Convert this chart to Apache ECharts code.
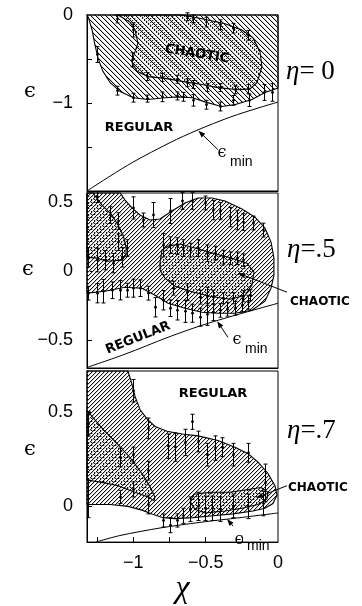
<!DOCTYPE html>
<html>
<head>
<meta charset="utf-8">
<script src="https://cdn.jsdelivr.net/npm/echarts@6/dist/echarts.min.js"></script>
<style>
  html, body { margin: 0; padding: 0; background: #fff; }
  #chart { width: 362px; height: 606px; }
</style>
</head>
<body>
<div id="chart"></div>
<script>
// axis ranges and tick values
const chiRange = [-1.32, 0];
const epsRanges = [[-2, 0], [-0.7, 0.565], [-0.19, 0.72]];
const chiTicks = [-1.25, -1, -0.75, -0.5, -0.25];
const chiLabels = [-1, -0.5, 0];
const epsTicks = [[-0.5, -1, -1.5], [0.5, 0, -0.5], [0.5, 0]];
const epsLabels = [[0, -1], [0.5, 0, -0.5], [0.5, 0]];

// eta = 0 : mixed (hatched) region, chaotic (dotted) region, eps_min curve, error bars [chi, eps, half]
const mixed0 = [[-1.32, 0], [0, 0], [0, -0.83], [-0.09, -0.88], [-0.18, -0.96], [-0.30, -1.02], [-0.39, -1.04],
  [-0.50, -0.99], [-0.59, -0.94], [-0.69, -0.93], [-0.78, -0.94], [-0.90, -0.96], [-1.0, -0.94], [-1.09, -0.87],
  [-1.16, -0.77], [-1.21, -0.64], [-1.244, -0.49], [-1.265, -0.34], [-1.285, -0.17], [-1.31, -0.03]];
const chaos0 = [[-1.106, 0], [-1.023, -0.08], [-0.988, -0.17], [-0.968, -0.32], [-0.995, -0.45], [-1.009, -0.54],
  [-0.974, -0.64], [-0.898, -0.70], [-0.781, -0.72], [-0.643, -0.76], [-0.525, -0.79], [-0.415, -0.825],
  [-0.276, -0.85], [-0.194, -0.84], [-0.145, -0.77], [-0.111, -0.59], [-0.124, -0.42], [-0.173, -0.26],
  [-0.249, -0.17], [-0.366, -0.10], [-0.484, -0.056], [-0.594, -0.02], [-0.677, 0]];
const emin0 = [[-1.32, -2.0], [-1.16, -1.83], [-1.0, -1.67], [-0.746, -1.45], [-0.56, -1.31], [-0.33, -1.16], [-0.124, -1.05], [0, -0.99]];
const err0 = [[-1.11, -0.045, 0.045], [-1.0, -0.17, 0.08], [-0.63, -0.02, 0.045], [-0.59, -0.045, 0.045],
  [-0.50, -0.08, 0.055], [-0.40, -0.11, 0.055], [-0.31, -0.15, 0.055], [-0.21, -0.23, 0.055],
  [-1.01, -0.51, 0.08], [-1.25, -0.45, 0.09],
  [-0.905, -0.70, 0.045], [-0.80, -0.71, 0.045], [-0.70, -0.73, 0.045], [-0.63, -0.77, 0.045], [-0.59, -0.79, 0.045],
  [-0.49, -0.825, 0.045], [-0.40, -0.825, 0.045], [-0.30, -0.85, 0.045], [-0.21, -0.84, 0.05], [-0.10, -0.88, 0.09], [-0.04, -0.88, 0.10],
  [-1.11, -0.86, 0.05], [-1.0, -0.94, 0.05], [-0.905, -0.95, 0.04], [-0.80, -0.93, 0.055], [-0.70, -0.92, 0.045],
  [-0.66, -0.93, 0.05], [-0.59, -0.97, 0.065], [-0.50, -1.02, 0.05], [-0.40, -1.04, 0.05], [-0.31, -0.97, 0.055], [-0.20, -0.97, 0.07]];

// eta = .5
const mixed1 = [[-1.32, 0.565], [-1.09, 0.565], [-1.057, 0.514], [-1.009, 0.457], [-0.954, 0.406], [-0.885, 0.37],
  [-0.815, 0.377], [-0.733, 0.435], [-0.643, 0.493], [-0.553, 0.529], [-0.456, 0.529], [-0.366, 0.507],
  [-0.249, 0.449], [-0.159, 0.391], [-0.09, 0.312], [-0.048, 0.21], [-0.028, 0.094], [-0.028, -0.029],
  [-0.048, -0.123], [-0.09, -0.217], [-0.18, -0.283], [-0.297, -0.304], [-0.415, -0.304], [-0.525, -0.297],
  [-0.643, -0.268], [-0.76, -0.232], [-0.85, -0.174], [-0.94, -0.123], [-1.057, -0.116], [-1.196, -0.145], [-1.32, -0.159]];
const lobe1 = [[-1.32, 0.565], [-1.279, 0.565], [-1.216, 0.478], [-1.147, 0.406], [-1.106, 0.333], [-1.071, 0.261],
  [-1.05, 0.174], [-1.05, 0.116], [-1.078, 0.08], [-1.182, 0.072], [-1.251, 0.094], [-1.32, 0.101]];
const chaos1 = [[-0.815, 0.065], [-0.802, 0.152], [-0.76, 0.181], [-0.677, 0.196], [-0.574, 0.167], [-0.449, 0.13],
  [-0.318, 0.094], [-0.214, 0.058], [-0.166, -0.007], [-0.18, -0.101], [-0.228, -0.174], [-0.332, -0.203],
  [-0.47, -0.181], [-0.608, -0.145], [-0.712, -0.109], [-0.781, -0.051], [-0.815, 0.007]];
const emin1 = [[-1.32, -0.696], [-1.057, -0.60], [-0.76, -0.478], [-0.525, -0.391], [-0.297, -0.319], [-0.124, -0.268], [0, -0.232]];
const err1 = [[-1.25, 0.536, 0.04], [-1.16, 0.406, 0.06], [-1.106, 0.362, 0.06], [-1.0, 0.457, 0.08], [-0.933, 0.37, 0.05],
  [-0.864, 0.406, 0.09], [-0.746, 0.435, 0.09], [-0.663, 0.507, 0.06], [-0.594, 0.507, 0.06], [-0.504, 0.493, 0.05],
  [-0.449, 0.442, 0.07], [-0.40, 0.435, 0.06], [-0.332, 0.391, 0.07], [-0.283, 0.37, 0.07], [-0.242, 0.355, 0.06],
  [-0.173, 0.348, 0.05], [-0.104, 0.297, 0.05],
  [-1.313, 0.10, 0.07], [-1.25, 0.08, 0.085], [-1.196, 0.08, 0.07], [-1.14, 0.058, 0.07], [-1.078, 0.10, 0.07],
  [-1.044, 0.167, 0.06], [-1.106, 0.21, 0.06],
  [-1.313, -0.159, 0.05], [-1.25, -0.159, 0.07], [-1.209, -0.145, 0.085], [-1.147, -0.138, 0.06], [-1.092, -0.138, 0.07],
  [-1.044, -0.138, 0.05], [-1.0, -0.123, 0.065], [-0.954, -0.123, 0.06], [-0.898, -0.159, 0.05], [-0.85, -0.261, 0.07],
  [-0.795, -0.21, 0.07], [-0.746, -0.268, 0.06], [-0.698, -0.283, 0.07], [-0.643, -0.29, 0.08], [-0.594, -0.304, 0.065],
  [-0.539, -0.333, 0.065], [-0.491, -0.312, 0.08], [-0.449, -0.297, 0.06], [-0.40, -0.283, 0.05], [-0.352, -0.275, 0.05],
  [-0.297, -0.268, 0.05], [-0.249, -0.246, 0.05], [-0.207, -0.225, 0.05],
  [-0.795, 0.188, 0.085], [-0.746, 0.188, 0.06], [-0.698, 0.181, 0.06], [-0.656, 0.167, 0.06], [-0.608, 0.152, 0.05],
  [-0.553, 0.167, 0.06], [-0.491, 0.13, 0.06], [-0.435, 0.13, 0.05], [-0.38, 0.101, 0.05], [-0.332, 0.094, 0.045],
  [-0.283, 0.094, 0.045], [-0.242, 0.08, 0.045],
  [-0.726, -0.123, 0.05], [-0.629, -0.152, 0.06], [-0.539, -0.188, 0.05], [-0.491, -0.181, 0.065], [-0.449, -0.188, 0.05],
  [-0.38, -0.196, 0.04], [-0.311, -0.196, 0.04], [-0.242, -0.181, 0.04], [-0.194, -0.174, 0.04]];

// eta = .7
const mixed2 = [[-1.32, 0.72], [-1.037, 0.72], [-1.009, 0.65], [-0.988, 0.585], [-0.954, 0.515], [-0.905, 0.465],
  [-0.85, 0.425], [-0.767, 0.40], [-0.663, 0.385], [-0.553, 0.375], [-0.415, 0.35], [-0.297, 0.315], [-0.207, 0.28],
  [-0.138, 0.235], [-0.069, 0.175], [-0.021, 0.11], [-0.007, 0.06], [-0.035, 0.015], [-0.09, -0.01], [-0.173, -0.025],
  [-0.311, -0.04], [-0.449, -0.05], [-0.587, -0.06], [-0.712, -0.065], [-0.795, -0.06], [-0.871, -0.04], [-0.94, -0.02],
  [-1.037, 0], [-1.161, 0.01], [-1.32, 0.01]];
const wedge2 = [[-1.32, 0.51], [-1.209, 0.41], [-1.113, 0.335], [-1.023, 0.26], [-0.94, 0.175], [-0.885, 0.105],
  [-0.85, 0.05], [-0.857, 0.03], [-0.898, 0.05], [-0.988, 0.075], [-1.106, 0.11], [-1.196, 0.125], [-1.32, 0.14]];
const chaos2 = [[-0.608, 0.025], [-0.58, 0.065], [-0.47, 0.075], [-0.332, 0.075], [-0.207, 0.09], [-0.117, 0.10],
  [-0.069, 0.075], [-0.076, 0.04], [-0.138, 0.01], [-0.249, -0.01], [-0.366, -0.025], [-0.504, -0.035], [-0.574, -0.015]];
const emin2 = [[-1.26, -0.19], [-1.092, -0.155], [-0.815, -0.115], [-0.539, -0.085], [-0.263, -0.06], [0, -0.035]];
const err2 = [[-1.313, 0.44, 0.065], [-1.0, 0.615, 0.06], [-0.898, 0.415, 0.055], [-1.092, 0.26, 0.05], [-1.0, 0.275, 0.04],
  [-0.898, 0.19, 0.05], [-0.76, 0.32, 0.065], [-0.712, 0.315, 0.075], [-0.643, 0.34, 0.07], [-0.594, 0.45, 0.04],
  [-0.553, 0.345, 0.055], [-0.491, 0.275, 0.06], [-0.435, 0.31, 0.065], [-0.387, 0.315, 0.05], [-0.311, 0.275, 0.06],
  [-0.207, 0.285, 0.05], [-0.09, 0.125, 0.10],
  [-1.313, 0.04, 0.10], [-1.092, 0.05, 0.035], [-1.0, 0.09, 0.04], [-0.898, 0.01, 0.05], [-0.795, -0.075, 0.035],
  [-0.746, -0.10, 0.04], [-0.698, -0.075, 0.035], [-0.656, -0.05, 0.04], [-0.608, -0.015, 0.065], [-0.553, 0, 0.075],
  [-0.504, -0.01, 0.065], [-0.456, -0.01, 0.065], [-0.401, -0.015, 0.065], [-0.311, 0, 0.06], [-0.207, 0, 0.065],
  [-0.104, 0.015, 0.065]];

// annotation arrows per panel: [fromChi, fromEps, toChi, toEps]
const arrows = [
  [[-0.415, -1.53, -0.55, -1.315]],
  [[-0.346, -0.478, -0.42, -0.362], [0.062, -0.152, -0.276, -0.014]],
  [[-0.311, -0.105, -0.352, -0.067], [0.062, 0.11, -0.152, 0.045]]
];

function makeHatch(size, rising, dark) {
  const c = document.createElement('canvas');
  c.width = c.height = size;
  const g = c.getContext('2d');
  for (let i = 0; i < size; i++) {
    const row = rising ? size - 1 - i : i;
    g.fillStyle = dark;
    g.fillRect(i, row, 1, 1);
    g.fillStyle = '#cfcfcf';
    g.fillRect((i + 1) % size, row, 1, 1);
  }
  return { image: c, repeat: 'repeat' };
}
function makeDots(size, pts) {
  const c = document.createElement('canvas');
  c.width = c.height = size;
  const g = c.getContext('2d');
  pts.forEach(p => { g.fillStyle = p[2]; g.fillRect(p[0], p[1], 1, 1); });
  return { image: c, repeat: 'repeat' };
}
const hatchA = makeHatch(5, false, '#000');
const hatchB = makeHatch(4, true, '#111');
const dotsA = makeDots(4, [[0, 0, '#222'], [2, 2, '#222'], [1, 0, '#c8c8c8'], [3, 2, '#c8c8c8']]);
const dotsB = makeDots(3, [[1, 1, '#111'], [2, 1, '#aaa']]);

function polygonSeries(i, points, fill) {
  return {
    type: 'custom', xAxisIndex: i, yAxisIndex: i, silent: true, data: points,
    renderItem: (params, api) => {
      if (params.dataIndex !== 0) return null;
      return {
        type: 'polygon',
        shape: { points: points.map(p => api.coord(p)) },
        style: { fill: fill, stroke: '#000', lineWidth: 1.1 }
      };
    }
  };
}
function errorSeries(i, data) {
  return {
    type: 'custom', xAxisIndex: i, yAxisIndex: i, silent: true, z: 5, data: data,
    renderItem: (params, api) => {
      const x = api.value(0), y = api.value(1), d = api.value(2);
      const c = api.coord([x, y]), hi = api.coord([x, y + d]), lo = api.coord([x, y - d]);
      const px = Math.round(c[0]) + 0.5;
      const st = { stroke: '#000', lineWidth: 1 };
      return {
        type: 'group', children: [
          { type: 'line', shape: { x1: px, y1: hi[1], x2: px, y2: lo[1] }, style: st },
          { type: 'line', shape: { x1: px - 2, y1: hi[1], x2: px + 2, y2: hi[1] }, style: st },
          { type: 'line', shape: { x1: px - 2, y1: lo[1], x2: px + 2, y2: lo[1] }, style: st },
          { type: 'circle', shape: { cx: px, cy: c[1], r: 1.4 }, style: { fill: '#000' } }
        ]
      };
    }
  };
}
function eminSeries(i, data) {
  return {
    type: 'line', xAxisIndex: i, yAxisIndex: i, data: data, smooth: 0.3, showSymbol: false,
    silent: true, z: 4, lineStyle: { color: '#000', width: 1 }
  };
}
function arrowSeries(i, data) {
  return {
    type: 'custom', xAxisIndex: i, yAxisIndex: i, silent: true, z: 6, clip: false, data: data,
    renderItem: (params, api) => {
      const a = api.coord([api.value(0), api.value(1)]);
      const b = api.coord([api.value(2), api.value(3)]);
      const ang = Math.atan2(b[1] - a[1], b[0] - a[0]);
      const L = 7, W = 2.6;
      const bx = b[0] - L * Math.cos(ang), by = b[1] - L * Math.sin(ang);
      return {
        type: 'group', children: [
          { type: 'line', shape: { x1: a[0], y1: a[1], x2: bx, y2: by }, style: { stroke: '#000', lineWidth: 1 } },
          { type: 'polygon', shape: { points: [b, [bx - W * Math.sin(ang), by + W * Math.cos(ang)], [bx + W * Math.sin(ang), by - W * Math.cos(ang)]] }, style: { fill: '#000' } }
        ]
      };
    }
  };
}

const fmt = v => (v < 0 ? '\u2212' : '') + String(Math.abs(v));
const gridBox = [[15, 176], [193, 175], [371, 182]];
const tickFont = { fontFamily: 'Liberation Sans', fontSize: 18, color: '#000' };

const option = {
  animation: false,
  backgroundColor: '#fff',
  grid: gridBox.map(g => ({ left: 87, top: g[0], width: 191, height: g[1], show: true, borderColor: '#000', borderWidth: 1, backgroundColor: '#fff' })),
  xAxis: [0, 1, 2].map(i => ({
    type: 'value', gridIndex: i, min: chiRange[0], max: chiRange[1], position: 'bottom',
    axisLine: { show: true, onZero: false, lineStyle: { color: '#000', width: 1 } },
    axisTick: i === 2 ? { show: true, inside: true, length: 5, customValues: chiTicks, lineStyle: { color: '#000' } } : { show: false },
    axisLabel: i === 2 ? Object.assign({ show: true, margin: 12, customValues: chiLabels, formatter: fmt }, tickFont) : { show: false },
    splitLine: { show: false },
    name: i === 2 ? '\u03c7' : '',
    nameLocation: 'middle', nameGap: 24,
    nameTextStyle: { fontFamily: 'Liberation Serif', fontStyle: 'italic', fontSize: 32, color: '#000' }
  })),
  yAxis: [0, 1, 2].map(i => ({
    type: 'value', gridIndex: i, min: epsRanges[i][0], max: epsRanges[i][1], position: 'left',
    axisLine: { show: true, onZero: false, lineStyle: { color: '#000', width: 1 } },
    axisTick: { show: true, inside: true, length: 5, customValues: epsTicks[i], lineStyle: { color: '#000' } },
    axisLabel: Object.assign({ show: true, margin: 14, customValues: epsLabels[i], formatter: fmt }, tickFont),
    splitLine: { show: false }
  })),
  series: [
    polygonSeries(0, mixed0, hatchA), polygonSeries(0, chaos0, dotsA), eminSeries(0, emin0), errorSeries(0, err0), arrowSeries(0, arrows[0]),
    polygonSeries(1, mixed1, hatchB), polygonSeries(1, lobe1, dotsB), polygonSeries(1, chaos1, dotsB), eminSeries(1, emin1), errorSeries(1, err1), arrowSeries(1, arrows[1]),
    polygonSeries(2, mixed2, hatchB), polygonSeries(2, wedge2, dotsB), polygonSeries(2, chaos2, dotsB), eminSeries(2, emin2), errorSeries(2, err2), arrowSeries(2, arrows[2])
  ],
  graphic: []
};

const lab = { fontFamily: 'DejaVu Sans', fontWeight: 'bold', fontSize: 13, fill: '#000' };
function txt(text, x, y, extra, rot) {
  return { type: 'text', x: x, y: y, rotation: rot || 0, z: 20, silent: true,
    style: Object.assign({ text: text, align: 'center', verticalAlign: 'middle' }, lab, extra || {}) };
}
const serifEps = { fontFamily: 'DejaVu Serif', fontWeight: 'normal', fontSize: 16 };
const minSub = { fontFamily: 'Liberation Sans', fontWeight: 'normal', fontSize: 14, align: 'left' };
const etaStyle = { fontFamily: 'Liberation Serif', fontWeight: 'normal', fontSize: 27, align: 'left', rich: { i: { fontFamily: 'Liberation Serif', fontStyle: 'italic', fontSize: 27 } } };
const axEps = { fontFamily: 'DejaVu Serif', fontWeight: 'normal', fontSize: 21 };
option.graphic = [
  txt('CHAOTIC', 197, 54, null, -0.16),
  txt('REGULAR', 139, 128),
  txt('\u03f5', 222, 153, serifEps), txt('min', 230, 162, minSub),
  txt('REGULAR', 138, 338, null, 0.38),
  txt('\u03f5', 237, 340, serifEps), txt('min', 245, 349, minSub),
  txt('CHAOTIC', 290, 302, { align: 'left', fontSize: 12 }),
  txt('REGULAR', 213, 394),
  txt('CHAOTIC', 288, 488, { align: 'left', fontSize: 12 }),
  txt('\u03f5', 239, 540, serifEps), txt('min', 247, 546, minSub),
  txt('{i|\u03b7}= 0', 286, 72, etaStyle),
  txt('{i|\u03b7}=.5', 287, 250, etaStyle),
  txt('{i|\u03b7}=.7', 287, 431, etaStyle),
  txt('\u03f5', 30, 92, axEps),
  txt('\u03f5', 28, 270, axEps),
  txt('\u03f5', 30, 450, axEps)
];

const chart = echarts.init(document.getElementById('chart'), null, { renderer: 'canvas' });
chart.setOption(option);
</script>
</body>
</html>
